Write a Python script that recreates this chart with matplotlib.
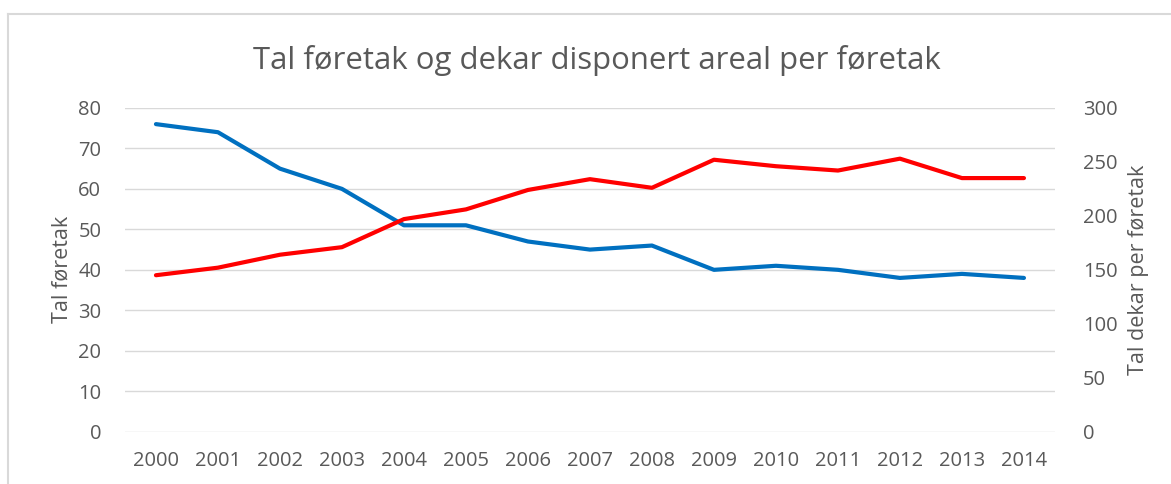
import matplotlib.pyplot as plt
from matplotlib.lines import Line2D

years = ['2000', '2001', '2002', '2003', '2004', '2005', '2006', '2007',
         '2008', '2009', '2010', '2011', '2012', '2013', '2014']
foretak = [76, 74, 65, 60, 51, 51, 47, 45, 46, 40, 41, 40, 38, 39, 38]
dekar = [145, 152, 164, 171, 197, 206, 224, 234, 226, 252, 246, 242, 253, 235, 235]

plt.rcParams['font.family'] = ['Open Sans', 'DejaVu Sans']
grey = '#595959'

fig = plt.figure(figsize=(11.71, 4.84), dpi=100)
ax = fig.add_axes([0.1067, 0.108, 0.7942, 0.669])
ax2 = ax.twinx()

x = range(len(years))
ax.plot(x, foretak, color='#0070C0', lw=3, solid_capstyle='round', zorder=3)
ax2.plot(x, dekar, color='#FF0000', lw=3, solid_capstyle='round', zorder=3)

ax.set_xlim(-0.5, len(years) - 0.5)
ax.set_ylim(0, 80)
ax.set_yticks(range(0, 81, 10))
ax2.set_ylim(0, 300)
ax2.set_yticks(range(0, 301, 50))
ax.set_xticks(list(x))
ax.set_xticklabels(years)

ax.grid(axis='y', color='#d9d9d9', lw=1)
ax.set_axisbelow(True)
for a in (ax, ax2):
    for s in a.spines.values():
        s.set_visible(False)
    a.tick_params(length=0, labelsize=14.5, colors=grey)
ax.tick_params(axis='y', pad=17)
ax2.tick_params(axis='y', pad=20)
ax.tick_params(axis='x', pad=14)

ax.set_ylabel('Tal føretak', fontsize=15.5, color=grey, labelpad=4)
ax2.set_ylabel('Tal dekar per føretak', fontsize=15.5, color=grey, labelpad=8)
fig.text(0.51, 0.876, 'Tal føretak og dekar disponert areal per føretak',
         ha='center', va='center', fontsize=22.4, color=grey)

# chart frame
fig.add_artist(Line2D([0.0068, 0.0068], [0, 0.971], color='#d9d9d9', lw=1.5))
fig.add_artist(Line2D([0.0068, 1], [0.971, 0.971], color='#d9d9d9', lw=1.5))

plt.savefig('out.png', dpi=100)
